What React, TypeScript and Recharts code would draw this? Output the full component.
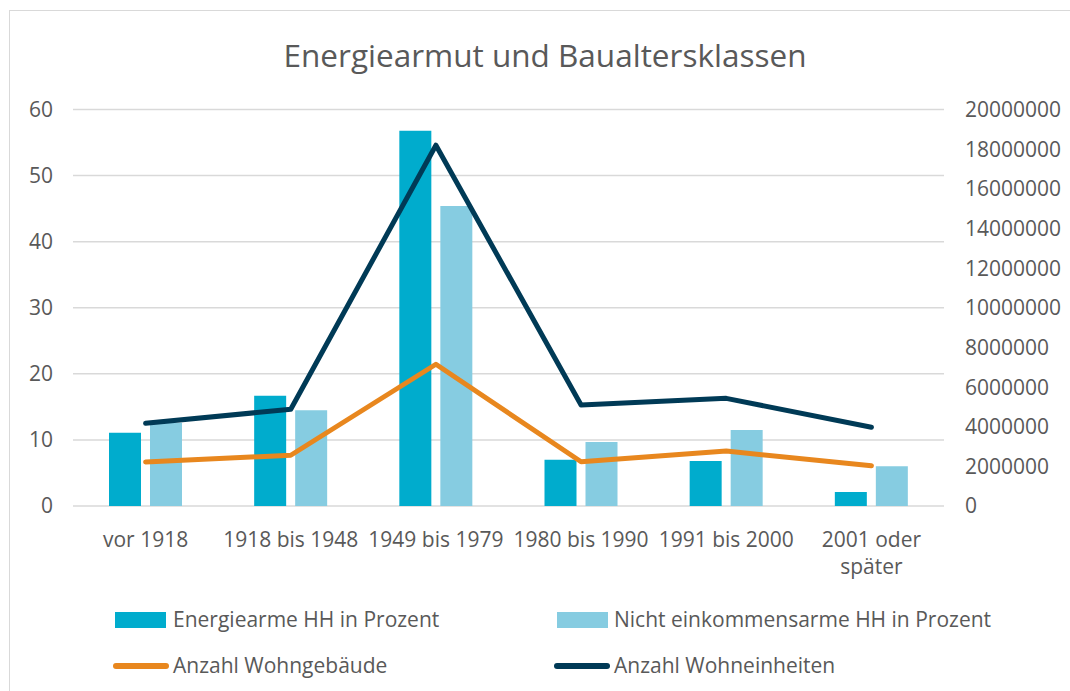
import { ComposedChart, Bar, Line, XAxis, YAxis, CartesianGrid } from 'recharts';

// Baualtersklassen
const categories = ['vor 1918', '1918 bis 1948', '1949 bis 1979', '1980 bis 1990', '1991 bis 2000', '2001 oder später'];
// Prozentwerte (linke Achse)
const energiearme = [11.1, 16.7, 56.8, 7.0, 6.8, 2.1];
const nichtEinkommensarme = [12.6, 14.5, 45.4, 9.7, 11.5, 6.0];
// Anzahlen (rechte Achse)
const wohngebaeude = [2220000, 2560000, 7150000, 2230000, 2770000, 2030000];
const wohneinheiten = [4170000, 4880000, 18200000, 5090000, 5430000, 3970000];

const leftTicks = [0, 10, 20, 30, 40, 50, 60];
const rightTicks = [0, 2000000, 4000000, 6000000, 8000000, 10000000, 12000000, 14000000, 16000000, 18000000, 20000000];

const data = categories.map((name, i) => ({
  name,
  energiearme: energiearme[i],
  nichtEinkommensarme: nichtEinkommensarme[i],
  wohngebaeude: wohngebaeude[i],
  wohneinheiten: wohneinheiten[i],
}));

const FONT = '"Open Sans", sans-serif';
const TEXT = '#595959';
const C_ENERGIE = '#00ACCD';
const C_NICHT = '#86CCE1';
const C_GEB = '#E8871E';
const C_EINH = '#003A56';

// split long labels into two lines like Excel does
function wrapLabel(label: string): string[] {
  if (label.length <= 14) return [label];
  const words = label.split(' ');
  const lines: string[] = [];
  let cur = '';
  for (const w of words) {
    const next = cur ? cur + ' ' + w : w;
    if (next.length > 10 && cur) {
      lines.push(cur);
      cur = w;
    } else {
      cur = next;
    }
  }
  if (cur) lines.push(cur);
  return lines;
}

function CategoryTick(props: any) {
  const { x, y, payload } = props;
  const lines = wrapLabel(payload.value);
  return (
    <text x={x} y={y} textAnchor="middle" fill={TEXT} fontSize={21} fontFamily={FONT}>
      {lines.map((l, i) => (
        <tspan key={i} x={x} y={y + 38.5 + i * 27}>{l}</tspan>
      ))}
    </text>
  );
}

export default function App() {
  return (
    <div style={{ position: 'absolute', left: 0, top: 0, width: 1070, height: 691, background: '#fff', overflow: 'hidden', fontFamily: FONT }}>
      <div style={{ position: 'absolute', left: 9, top: 10, width: 1100, height: 720, border: '1.5px solid #D9D9D9' }} />
      <div style={{ position: 'absolute', left: 0, top: 33, width: 1090, textAlign: 'center', fontSize: 31.5, color: TEXT, lineHeight: '44px' }}>
        Energiearmut und Baualtersklassen
      </div>
      <div style={{ position: 'absolute', left: 0, top: 0 }}>
        <ComposedChart
          width={1070}
          height={600}
          data={data}
          margin={{ top: 109.5, right: 0, bottom: 34, left: 0 }}
          barGap={9}
        >
          <CartesianGrid yAxisId="left" vertical={false} stroke="#D9D9D9" strokeWidth={1.5} />
          <XAxis
            dataKey="name"
            height={60}
            axisLine={false}
            tickLine={false}
            tickSize={0}
            interval={0}
            tick={<CategoryTick />}
          />
          <YAxis
            yAxisId="left"
            domain={[0, 60]}
            ticks={leftTicks}
            width={73}
            axisLine={false}
            tickLine={false}
            tickSize={0}
            tickMargin={20}
            tick={{ fill: TEXT, fontSize: 21, fontFamily: FONT }}
          />
          <YAxis
            yAxisId="right"
            orientation="right"
            domain={[0, 20000000]}
            ticks={rightTicks}
            width={126}
            axisLine={false}
            tickLine={false}
            tickSize={0}
            tickMargin={21}
            tick={{ fill: TEXT, fontSize: 21, fontFamily: FONT, textAnchor: 'start' }}
          />
          <Bar yAxisId="left" dataKey="energiearme" name="Energiearme HH in Prozent" fill={C_ENERGIE} barSize={32} isAnimationActive={false} />
          <Bar yAxisId="left" dataKey="nichtEinkommensarme" name="Nicht einkommensarme HH in Prozent" fill={C_NICHT} barSize={32} isAnimationActive={false} />
          <Line yAxisId="right" type="linear" dataKey="wohngebaeude" name="Anzahl Wohngebäude" stroke={C_GEB} strokeWidth={5} strokeLinecap="round" strokeLinejoin="round" dot={false} activeDot={false} isAnimationActive={false} />
          <Line yAxisId="right" type="linear" dataKey="wohneinheiten" name="Anzahl Wohneinheiten" stroke={C_EINH} strokeWidth={5} strokeLinecap="round" strokeLinejoin="round" dot={false} activeDot={false} isAnimationActive={false} />
        </ComposedChart>
      </div>
      {/* legend */}
      <div style={{ position: 'absolute', left: 115, top: 612, width: 51, height: 16, background: C_ENERGIE }} />
      <div style={{ position: 'absolute', left: 173, top: 604, fontSize: 21, color: TEXT, lineHeight: '30px', whiteSpace: 'nowrap' }}>Energiearme HH in Prozent</div>
      <div style={{ position: 'absolute', left: 557, top: 612, width: 51, height: 16, background: C_NICHT }} />
      <div style={{ position: 'absolute', left: 614, top: 604, fontSize: 21, color: TEXT, lineHeight: '30px', whiteSpace: 'nowrap' }}>Nicht einkommensarme HH in Prozent</div>
      <div style={{ position: 'absolute', left: 113, top: 663, width: 56, height: 5.5, borderRadius: 3, background: C_GEB }} />
      <div style={{ position: 'absolute', left: 173, top: 650, fontSize: 21, color: TEXT, lineHeight: '30px', whiteSpace: 'nowrap' }}>Anzahl Wohngebäude</div>
      <div style={{ position: 'absolute', left: 554, top: 663, width: 56, height: 5.5, borderRadius: 3, background: C_EINH }} />
      <div style={{ position: 'absolute', left: 614, top: 650, fontSize: 21, color: TEXT, lineHeight: '30px', whiteSpace: 'nowrap' }}>Anzahl Wohneinheiten</div>
    </div>
  );
}
